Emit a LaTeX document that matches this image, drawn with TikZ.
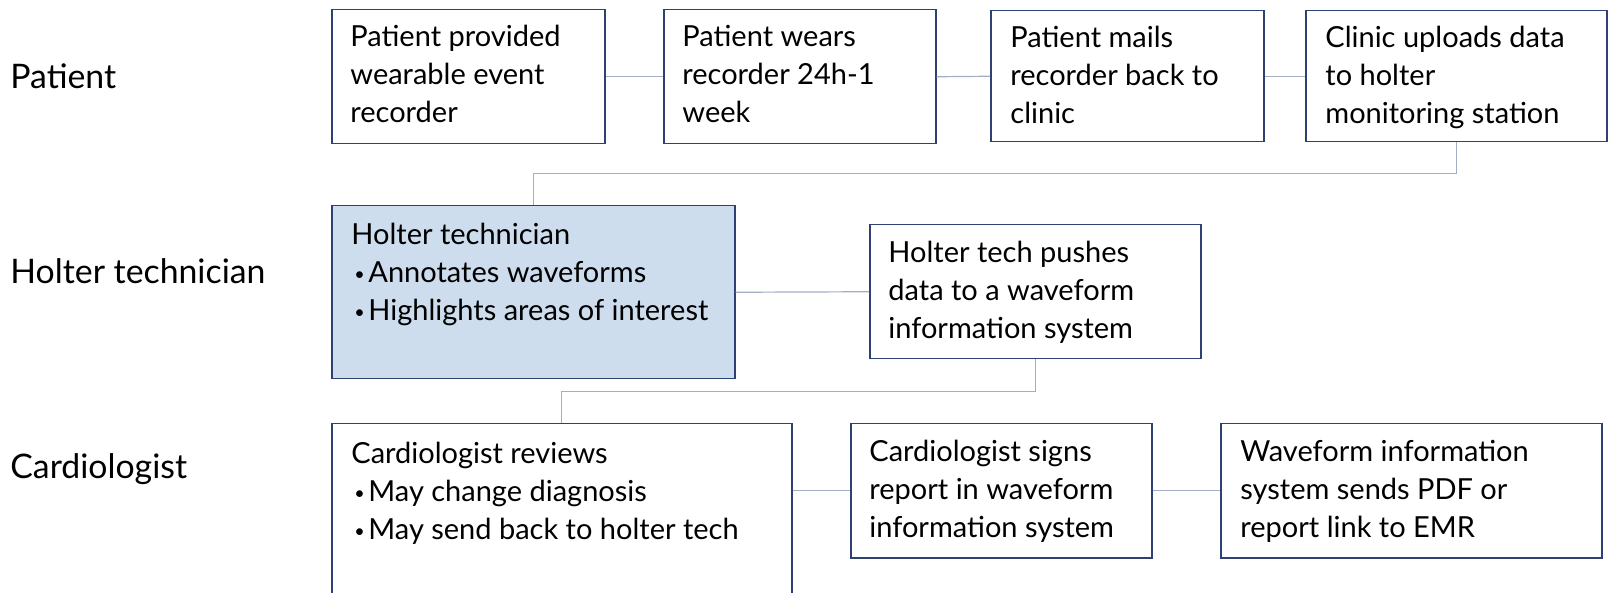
\documentclass[tikz,border=0pt]{standalone}
\usepackage{fontspec}
\setmainfont{Lato}
\usetikzlibrary{calc}
\definecolor{boxc}{HTML}{2F4173}
\definecolor{linec}{HTML}{A3ADC4}
\definecolor{fillc}{HTML}{CDDDEE}
\newcommand\tlines[1]{\vtop{\baselineskip=19pt\halign{##\hfil\cr#1\crcr}}}
\newcommand\bul{\makebox[8.5pt][l]{\hspace{1.5pt}\raisebox{1.2pt}{\fontsize{9pt}{9pt}\selectfont\textbullet}}}
\tikzset{
  box/.style={draw=boxc, line width=0.75pt, inner sep=0pt, anchor=north west},
  txt/.style={inner sep=0pt, anchor=base west, font=\fontsize{14.5pt}{19pt}\selectfont, text=black},
  lbl/.style={inner sep=0pt, anchor=base west, font=\fontsize{16.9pt}{20pt}\selectfont, text=black},
  conn/.style={draw=linec, line width=0.6pt}
}
\begin{document}
\begin{tikzpicture}[x=0.5pt,y=-0.5pt]
\useasboundingbox (0,0) rectangle (1608,593);
\clip (0,0) rectangle (1608,593);
% row labels
\node[lbl] (lp) at (10,89) {Patient};
\node[lbl] (lh) at (10,284) {Holter technician};
\node[lbl] (lc) at (10,479) {Cardiologist};
% row 1
\node[box, minimum width=136.5pt, minimum height=67pt] (b1) at (331,9) {};
\node[box, minimum width=136pt, minimum height=67pt] (b2) at (663,9) {};
\node[box, minimum width=136.5pt, minimum height=65.5pt] (b3) at (990,10) {};
\node[box, minimum width=150.5pt, minimum height=65.5pt] (b4) at (1305,10) {};
% row 2
\node[box, fill=fillc, minimum width=201.5pt, minimum height=86.5pt] (h) at (331,205) {};
\node[box, minimum width=165.5pt, minimum height=67pt] (p) at (869,224) {};
% row 3
\node[box, minimum width=230pt, minimum height=120pt] (c) at (331,423) {};
\node[box, minimum width=150.5pt, minimum height=67pt] (s) at (850,423) {};
\node[box, minimum width=190.5pt, minimum height=67pt] (w) at (1220,423) {};
% texts
\node[txt] (b1t) at ([shift={(19,38)}]b1.north west) {\tlines{Patient provided\cr wearable event\cr recorder}};
\node[txt] (b2t) at ([shift={(19,38)}]b2.north west) {\tlines{Patient wears\cr recorder 24h-1\cr week}};
\node[txt] (b3t) at ([shift={(20,38)}]b3.north west) {\tlines{Patient mails\cr recorder back to\cr clinic}};
\node[txt] (b4t) at ([shift={(20,38)}]b4.north west) {\tlines{Clinic uploads data\cr to holter\cr monitoring station}};
\node[txt] (ht) at ([shift={(20,40)}]h.north west) {\tlines{Holter technician\cr \bul Annotates waveforms\cr \bul Highlights areas of interest}};
\node[txt] (pt) at ([shift={(19,39)}]p.north west) {\tlines{Holter tech pushes\cr data to a waveform\cr information system}};
\node[txt] (ct) at ([shift={(20,41)}]c.north west) {\tlines{Cardiologist reviews\cr \bul May change diagnosis\cr \bul May send back to holter tech}};
\node[txt] (st) at ([shift={(19,39)}]s.north west) {\tlines{Cardiologist signs\cr report in waveform\cr information system}};
\node[txt] (wt) at ([shift={(20,39)}]w.north west) {\tlines{Waveform information\cr system sends PDF or\cr report link to EMR}};
% connectors
\draw[conn] (b1.east) -- (b2.west);
\draw[conn] (b2.east) -- (b3.west);
\draw[conn] (b3.east) -- (b4.west);
\draw[conn] (b4.south) |- ($(b4.south)!0.5!(h.north)$) -| (h.north);
\draw[conn] (h.east) -- (p.west);
\draw[conn] (p.south) |- ($(p.south)!0.5!(c.north)$) -| (c.north);
\draw[conn] (c.east |- s.west) -- (s.west);
\draw[conn] (s.east) -- (w.west);
\end{tikzpicture}
\end{document}
